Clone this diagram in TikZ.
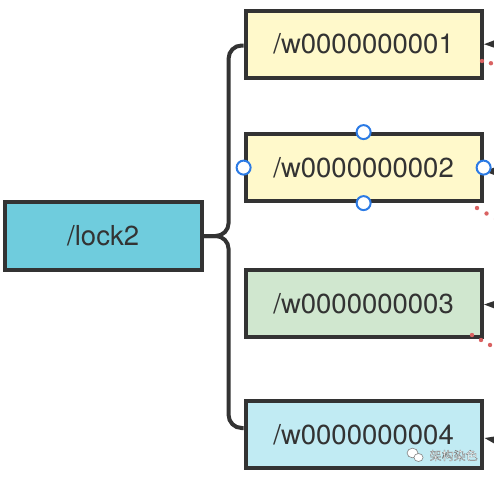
\documentclass[tikz,border=0pt]{standalone}
\usepackage{fontspec}
\setmainfont{TeX Gyre Heros}
\newfontfamily\cjkfont{Noto Sans CJK SC}
\usetikzlibrary{calc}
\definecolor{edgec}{HTML}{333333}
\definecolor{lockc}{HTML}{6FCCDD}
\definecolor{yelc}{HTML}{FFF9CB}
\definecolor{grnc}{HTML}{D0E7CF}
\definecolor{bluc}{HTML}{C1EBF3}
\definecolor{handc}{HTML}{2C7BE5}
\definecolor{dotc}{HTML}{D96262}
\tikzset{
  box/.style={draw=edgec, line width=4pt, text=edgec, minimum width=236pt, minimum height=67pt,
    inner sep=0pt, font=\fontsize{27.5}{30}\selectfont},
  conn/.style={draw=edgec, line width=4pt, rounded corners=13pt},
  handle/.style={circle, draw=handc, fill=white, line width=2pt, minimum size=14pt, inner sep=0pt},
  reddot/.style={fill=dotc},
  tipc/.style={fill=edgec}
}
\begin{document}
\begin{tikzpicture}[x=1pt,y=-1pt]
\useasboundingbox (0,0) rectangle (494,482);
% nodes
\node[box, fill=lockc, minimum width=197pt, minimum height=68pt] (lock2) at (103.2,236) {/lock2};
\node[box, fill=yelc] (w1) at (363.6,44.2) {/w0000000001};
\node[box, fill=yelc] (w2) at (363.6,167.6) {/w0000000002};
\node[box, fill=grnc] (w3) at (363.6,303.5) {/w0000000003};
\node[box, fill=bluc] (w4) at (363.6,434.5) {/w0000000004};
% connectors
\draw[conn] (lock2.east) -| ($(w1.west)+(-15,1.3)$) -- ($(w1.west)+(0,1.3)$);
\draw[conn] (lock2.east) -| ($(w4.west)+(-15,-6.5)$) -- ($(w4.west)+(0,-6.5)$);
% incoming arrow tips at the right edge
\coordinate (t1) at ($(w1.east)+(0.5,0)$);
\coordinate (t2) at ($(w2.east)+(0.5,3.5)$);
\coordinate (t3) at ($(w3.east)+(0.5,1)$);
\coordinate (t4) at ($(w4.east)+(1,3.5)$);
\fill[tipc] (t1) -- ++(13,-5) -- ++(0,9.5) -- cycle;
\fill[tipc] (t2) -- ++(13,-4.5) -- ++(0,9.5) -- cycle;
\fill[tipc] (t3) -- ++(13,-4.5) -- ++(0,9.5) -- cycle;
\fill[tipc] (t4) -- ++(13,-2) -- ++(0,9.5) -- cycle;
% red dotted connectors leaving the picture
\coordinate (d1a) at (482,61);
\coordinate (d1b) at (510,68);
\coordinate (d2a) at (477,208);
\coordinate (d2b) at (510,227);
\coordinate (d3a) at (472,335);
\coordinate (d3b) at (510,356);
\foreach \s in {0,9.2,18.4} \fill[reddot] ($(d1a)!\s pt!(d1b)$) circle (2.2pt);
\foreach \s in {0,11,22} \fill[reddot] ($(d2a)!\s pt!(d2b)$) circle (2.2pt);
\foreach \s in {0,10.3,20.6,30.9} \fill[reddot] ($(d3a)!\s pt!(d3b)$) circle (2.2pt);
% selection handles
\node[handle] (h1) at (w2.north) {};
\node[handle] (h2) at (w2.south) {};
\node[handle] (h3) at (w2.west) {};
\node[handle] (h4) at (w2.east) {};
% watermark
\draw[gray, fill=white, line width=0.6pt] (412.5,453) ellipse (5.5pt and 4.8pt);
\draw[gray, fill=white, line width=0.6pt] (418.5,457.5) ellipse (4.6pt and 4pt);
\node[inner sep=0pt, anchor=west, font=\cjkfont\fontsize{12}{12}\selectfont, text=white] (wm) at (429.5,455.5)
  {\special{pdf:literal direct 2 Tr 0.2 w 0.4 G}架构染色\special{pdf:literal direct 0 Tr}};
\end{tikzpicture}
\end{document}
